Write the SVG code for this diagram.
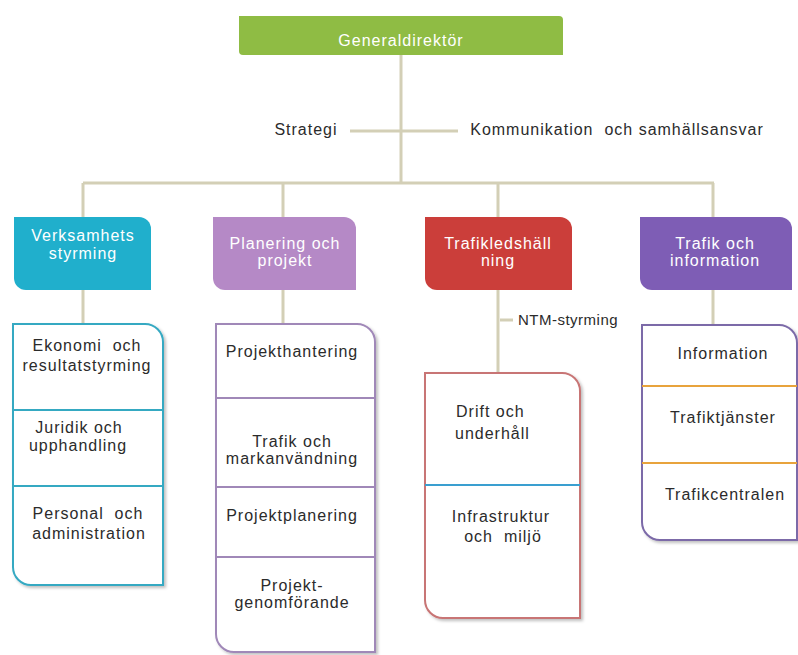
<svg xmlns="http://www.w3.org/2000/svg" width="798" height="655" viewBox="0 0 798 655">
<style>
text{font-family:"Liberation Sans",Arial,sans-serif;font-size:16px;letter-spacing:1px;text-anchor:middle}
.w{fill:#ffffff}
.d{fill:#2b2b2b}
.conn{stroke:#d3cfb6;stroke-width:3;fill:none}
.list{fill:#ffffff;stroke-width:2;filter:url(#sh)}
.div{stroke-width:2}
</style>
<defs>
<filter id="sh" x="-10%" y="-10%" width="130%" height="130%">
<feDropShadow dx="2" dy="2" stdDeviation="1.5" flood-color="#000" flood-opacity="0.25"/>
</filter>
</defs>
<g id="connectors">
<path class="conn" d="M401,55 V183"/>
<path class="conn" d="M350,131 H458"/>
<path class="conn" d="M83,183 H714"/>
<path class="conn" d="M83,183 V218 M283,183 V218 M498,183 V218 M713,183 V218"/>
<path class="conn" d="M83,290 V324 M283,290 V324 M498,290 V373 M713,290 V325"/>
<path class="conn" d="M500,320 H513" stroke-width="2"/>
</g>
<g id="generaldirektor">
<path d="M239,16 H559 A4 4 0 0 1 563,20 V55 H243 A4 4 0 0 1 239,51 Z" fill="#8fbc44"/>
<text x="401" y="46" class="w">Generaldirektör</text>
</g>
<g id="strategi">
<text x="306" y="135" class="d">Strategi</text>
</g>
<g id="kommunikation">
<text x="617" y="135" class="d" xml:space="preserve">Kommunikation  och samhällsansvar</text>
</g>
<g id="verksamhetsstyrning">
<path d="M14,217 H139 A12 12 0 0 1 151,229 V290 H26 A12 12 0 0 1 14,278 Z" fill="#20afcc"/>
<text x="83" y="241" class="w">Verksamhets</text>
<text x="83" y="259" class="w">styrming</text>
</g>
<g id="planering">
<path d="M213,217 H344 A12 12 0 0 1 356,229 V290 H225 A12 12 0 0 1 213,278 Z" fill="#b589c6"/>
<text x="285" y="249" class="w">Planering och</text>
<text x="285" y="266" class="w">projekt</text>
</g>
<g id="trafikledshallning">
<path d="M425,217 H560 A12 12 0 0 1 572,229 V290 H437 A12 12 0 0 1 425,278 Z" fill="#cb3e3a"/>
<text x="498" y="249" class="w">Trafikledshäll</text>
<text x="498" y="266" class="w">ning</text>
</g>
<g id="trafikinformation">
<path d="M640,217 H780 A12 12 0 0 1 792,229 V290 H652 A12 12 0 0 1 640,278 Z" fill="#7e5db5"/>
<text x="715" y="249" class="w">Trafik och</text>
<text x="715" y="266" class="w">information</text>
</g>
<g id="ntm">
<text x="568" y="325" class="d" style="font-size:15px;letter-spacing:0.5px">NTM-styrming</text>
</g>
<g id="list-verksamhet">
<path class="list" d="M13,324 H145 A18 18 0 0 1 163,342 V585 H31 A18 18 0 0 1 13,567 Z" stroke="#35a9c2"/>
<path class="div" d="M13,410 H163 M13,486 H163" stroke="#35a9c2"/>
<text x="87" y="351" class="d" xml:space="preserve">Ekonomi  och</text>
<text x="87" y="371" class="d">resultatstyrming</text>
<text x="79" y="433" class="d">Juridik och</text>
<text x="78" y="451" class="d">upphandling</text>
<text x="88" y="519" class="d" xml:space="preserve">Personal  och</text>
<text x="89" y="539" class="d">administration</text>
</g>
<g id="list-planering">
<path class="list" d="M216,324 H357 A18 18 0 0 1 375,342 V652 H234 A18 18 0 0 1 216,634 Z" stroke="#a088b8"/>
<path class="div" d="M216,398 H375 M216,487 H375 M216,557 H375" stroke="#a088b8"/>
<text x="292" y="357" class="d">Projekthantering</text>
<text x="292" y="447" class="d">Trafik och</text>
<text x="292" y="464" class="d">markanvändning</text>
<text x="292" y="521" class="d">Projektplanering</text>
<text x="292" y="591" class="d">Projekt-</text>
<text x="292" y="608" class="d">genomförande</text>
</g>
<g id="list-trafikledning">
<path class="list" d="M425,373 H562 A18 18 0 0 1 580,391 V618 H443 A18 18 0 0 1 425,600 Z" stroke="#c87474"/>
<path class="div" d="M425,485 H580" stroke="#3a9fd0"/>
<text x="456" y="417" class="d" style="text-anchor:start">Drift och</text>
<text x="455" y="439" class="d" style="text-anchor:start">underhåll</text>
<text x="501" y="522" class="d">Infrastruktur</text>
<text x="503" y="542" class="d" xml:space="preserve">och  miljö</text>
</g>
<g id="list-trafik">
<path class="list" d="M642,325 H779 A18 18 0 0 1 797,343 V540 H660 A18 18 0 0 1 642,522 Z" stroke="#7c6aa8"/>
<path class="div" d="M642,386 H797 M642,463 H797" stroke="#e8a33c"/>
<text x="723" y="359" class="d">Information</text>
<text x="723" y="423" class="d">Trafiktjänster</text>
<text x="725" y="500" class="d">Trafikcentralen</text>
</g>
</svg>
